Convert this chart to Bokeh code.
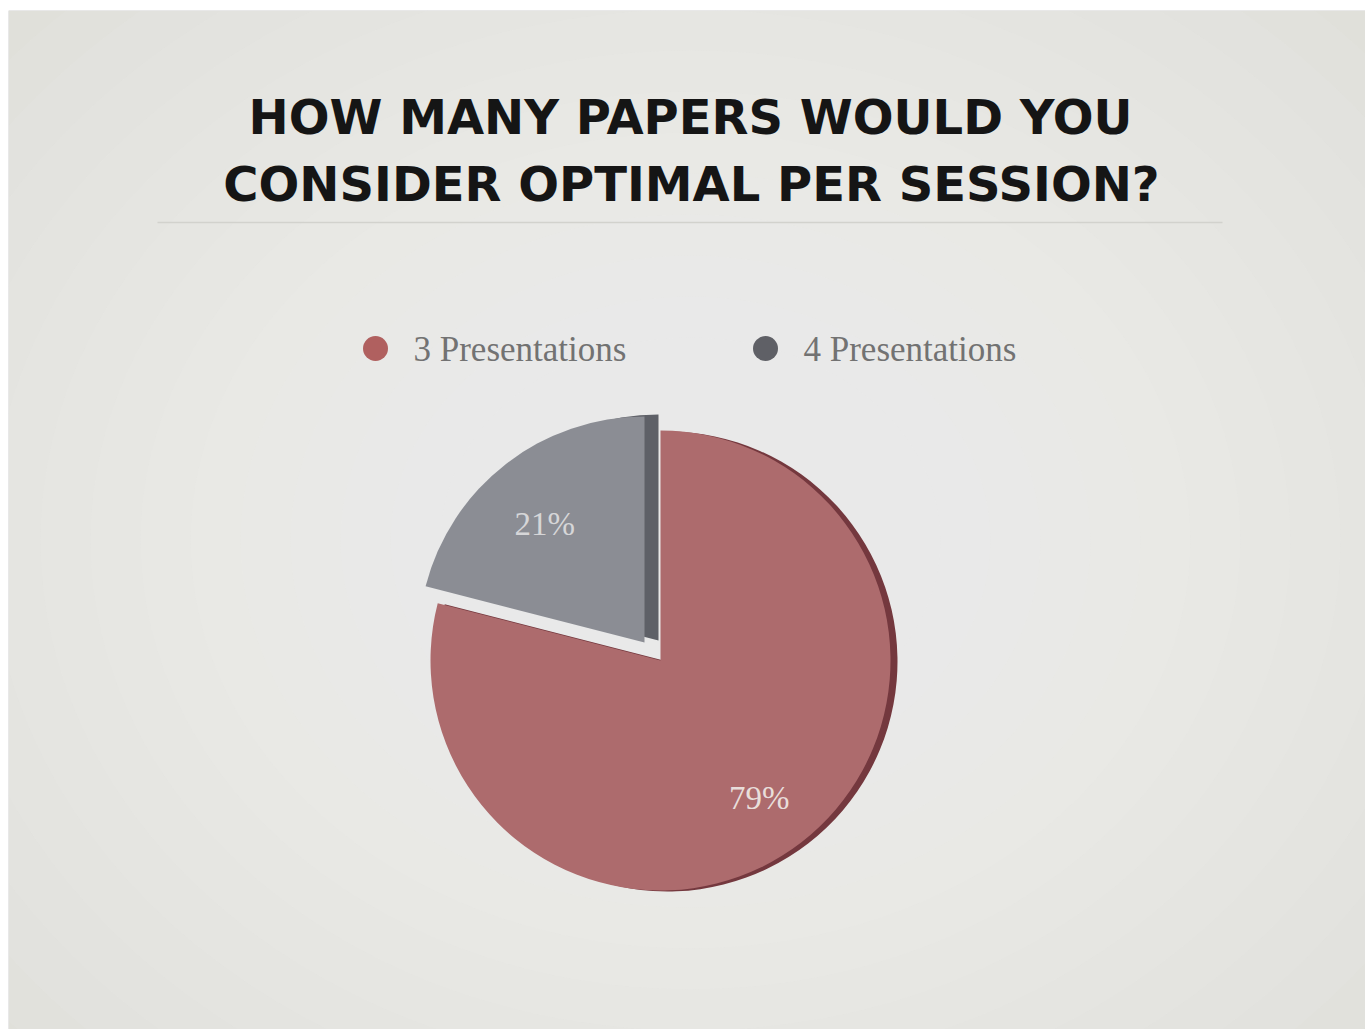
import math
from bokeh.plotting import figure
from bokeh.models import Range1d
from bokeh.core.properties import value
from bokeh.embed import file_html
from bokeh.resources import INLINE

# ---------------- data ----------------
title_lines = ["HOW MANY PAPERS WOULD YOU", "CONSIDER OPTIMAL PER SESSION?"]
categories = ["3 Presentations", "4 Presentations"]
percentages = [79, 21]
pct_labels = ["79%", "21%"]

# ---------------- style ----------------
W, H = 1365, 1029
LEFT, TOP = 8, 10
face_colors = ["#ad6b6d", "#8b8d94"]
side_colors = ["#74383e", "#5e6067"]
legend_colors = ["#b0605f", "#5f6066"]
label_colors = ["#e8dedb", "#d6d6d8"]
slice_centers = [(660, 660), (644, 642)]   # screen pixels (explode offset for 2nd slice)
slice_radius = [230, 226]
side_offsets = [(7, 1), (14, -2)]
label_frac = [0.70, 0.72]


def Y(sy):
    return H - sy


p = figure(width=W, height=H, x_range=Range1d(LEFT, W), y_range=Range1d(0, H - TOP),
           output_backend="svg", toolbar_location=None,
           x_axis_location=None, y_axis_location=None,
           min_border_left=LEFT, min_border_top=TOP, min_border_right=0, min_border_bottom=0)
p.grid.visible = False
p.outline_line_color = None
p.background_fill_color = "#d9d9d2"
p.border_fill_color = "#ffffff"

# vignette (lighter centre), many faint layers for a smooth falloff
vx, vy = 690, 540
n_layers = 18
vw = [2200 - k * 100 for k in range(n_layers)]
vh = [1800 - k * 82 for k in range(n_layers)]
p.ellipse(x=[vx] * n_layers, y=[Y(vy)] * n_layers, width=vw, height=vh,
          fill_color="#f3f3ef", fill_alpha=0.085, line_color=None)

# title
title_mid = [116, 183]
p.text(x=[690, 691], y=[Y(t) for t in title_mid], text=title_lines,
       text_font=value("DejaVu Sans"), text_font_style="bold", text_font_size="48px",
       text_color="#151515", text_align="center", text_baseline="middle")
p.segment(x0=[157], y0=[Y(222)], x1=[1222], y1=[Y(222)], line_color="#d2d2cd", line_width=1.5)

# legend
legend_x = [375, 765]
p.scatter(x=legend_x, y=[Y(348)] * 2, size=25, color=legend_colors, line_color=None)
p.text(x=[x + 38 for x in legend_x], y=[Y(349)] * 2, text=categories,
       text_font=value("Liberation Serif"), text_font_size="35px", text_color="#727272",
       text_align="left", text_baseline="middle")

# pie angles: start at 12 o'clock, run clockwise
total = float(sum(percentages))
starts, ends = [], []
cur = math.pi / 2
for v in percentages:
    span = v / total * 2 * math.pi
    ends.append(cur)
    starts.append(cur - span)
    cur -= span

# side (depth) faces
for i in [1, 0]:
    cx, cy = slice_centers[i]
    dx, dy = side_offsets[i]
    p.wedge(x=[cx + dx], y=[Y(cy + dy)], radius=slice_radius[i],
            start_angle=[starts[i]], end_angle=[ends[i]],
            fill_color=side_colors[i], line_color=None)
# top faces
for i in [0, 1]:
    cx, cy = slice_centers[i]
    p.wedge(x=[cx], y=[Y(cy)], radius=slice_radius[i],
            start_angle=[starts[i]], end_angle=[ends[i]],
            fill_color=face_colors[i], line_color=None)

# percentage labels on the bisectors
lab_x, lab_y = [], []
for i in range(len(percentages)):
    mid = (starts[i] + ends[i]) / 2
    cx, cy = slice_centers[i]
    rr = slice_radius[i] * label_frac[i]
    lab_x.append(cx + rr * math.cos(mid))
    lab_y.append(Y(cy) + rr * math.sin(mid) - 10)
p.text(x=lab_x, y=lab_y, text=pct_labels,
       text_font=value("Liberation Serif"), text_font_size="33px", text_color=label_colors,
       text_align="center", text_baseline="middle")

open("out.html", "w").write(file_html(p, INLINE))
